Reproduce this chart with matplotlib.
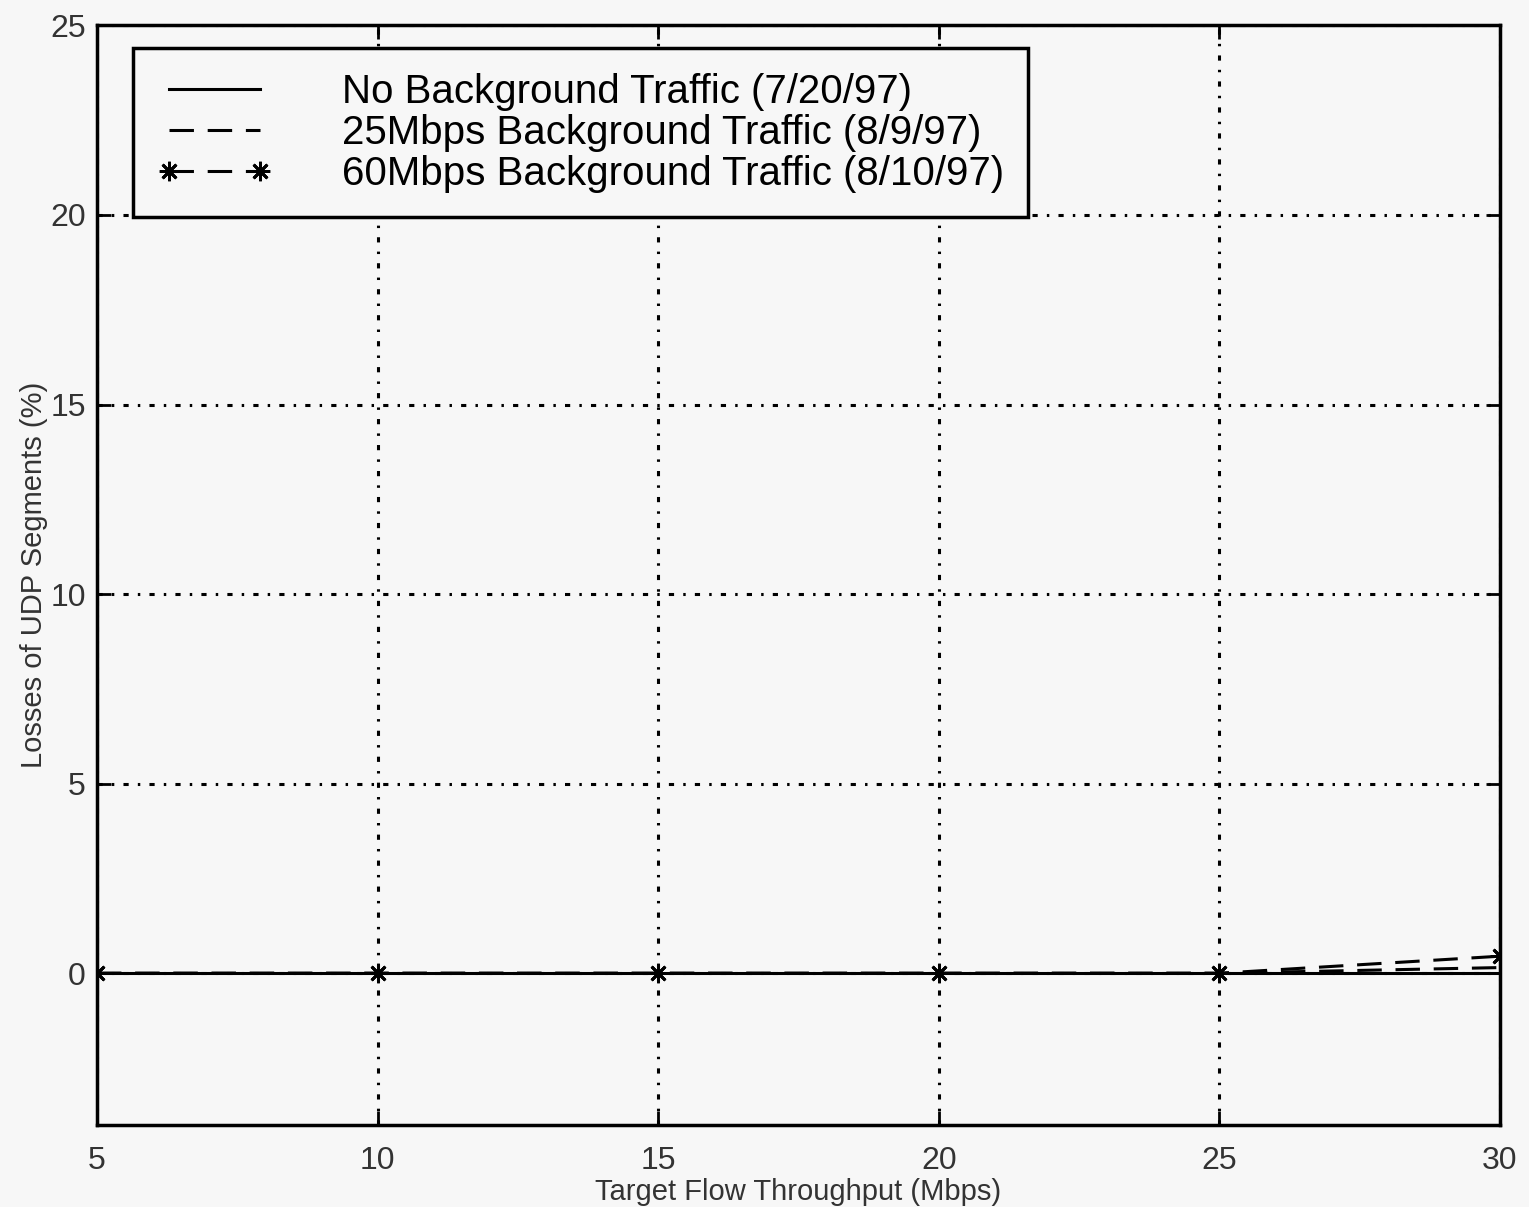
import numpy as np
from matplotlib import pyplot as plt

plt.rcParams['font.family'] = ['Liberation Sans', 'DejaVu Sans']

# measured throughput points (Mbps) and losses (%)
throughput = [5, 10, 15, 20, 25, 30]
loss_none = [0, 0, 0, 0, 0, 0]
loss_25 = [0, 0, 0, 0, 0, 0.15]
loss_60 = [0, 0, 0, 0, 0, 0.45]

labels = ['No Background Traffic (7/20/97)',
          '25Mbps Background Traffic (8/9/97)',
          '60Mbps Background Traffic (8/10/97)']

bg = '#f7f7f7'
fig = plt.figure(figsize=(15.29, 12.07), dpi=100, facecolor=bg)
ax = fig.add_axes([0.0634, 0.068, 0.9176, 0.911], facecolor=bg)

ax.plot(throughput, loss_none, color='black', lw=2.2, label=labels[0])
ax.plot(throughput, loss_25, color='black', lw=2.2, dashes=(8, 4.5), label=labels[1])
ax.plot(throughput, loss_60, color='black', lw=2.2, dashes=(8, 4.5),
        marker=(8, 2, 0), markersize=14, markeredgewidth=2, label=labels[2])

ax.set_xlim(5, 30)
ax.set_ylim(-4, 25)
ax.set_xticks([5, 10, 15, 20, 25, 30])
ax.set_yticks([0, 5, 10, 15, 20, 25])
# dotted grid with short dashes, like the old matlab ':' style
ax.grid(True, color='black', linestyle=(0, (1.7, 3, 0.8, 3)), lw=2.2)
ax.tick_params(direction='in', length=10, width=2, top=True, right=True,
               labelsize=23, labelcolor='#333333', pad=8)
ax.tick_params(axis='x', pad=15)
for s in ax.spines.values():
    s.set_linewidth(2.5)

ax.set_xlabel('Target Flow Throughput (Mbps)', fontsize=21, color='#333333')
ax.set_ylabel('Losses of UDP Segments (%)', fontsize=21, color='#333333')
ax.xaxis.set_label_coords(0.5, -0.048)
ax.yaxis.set_label_coords(-0.035, 0.5)

leg = ax.legend(loc='upper left', bbox_to_anchor=(0.0257, 0.979), fontsize=29,
                numpoints=2, handlelength=2.85, handletextpad=1.74,
                fancybox=False, framealpha=1, edgecolor='black',
                borderpad=0.6, labelspacing=0.08, borderaxespad=0)
leg.get_frame().set_linewidth(2.5)
leg.get_frame().set_facecolor(bg)

plt.savefig('out.png', dpi=100, facecolor=bg)
